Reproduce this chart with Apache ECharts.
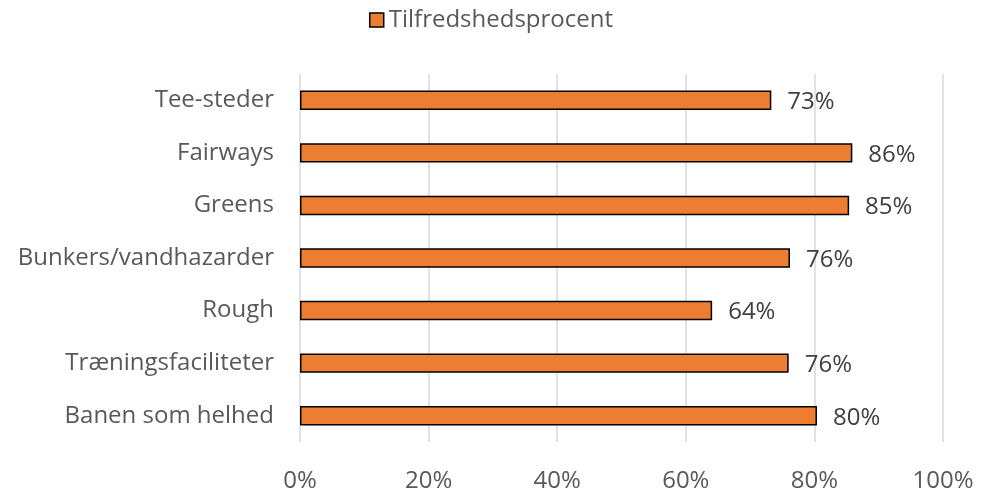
<!DOCTYPE html>
<html><head><meta charset="utf-8">
<script src="https://cdn.jsdelivr.net/npm/echarts@6/dist/echarts.min.js"></script>
<style>html,body{margin:0;padding:0;background:#fff}#c{width:982px;height:496px}</style>
</head><body><div id="c"></div>
<script>
const categories = ["Tee-steder","Fairways","Greens","Bunkers/vandhazarder","Rough","Træningsfaciliteter","Banen som helhed"];
const values = [73.3, 85.9, 85.4, 76.2, 64.1, 76.0, 80.4];
const seriesName = "Tilfredshedsprocent";
const xTicks = [0,20,40,60,80,100];

const FONT = "Open Sans";
const chart = echarts.init(document.getElementById('c'));
chart.setOption({
  animation:false,
  textStyle:{fontFamily:FONT},
  legend:{top:3,left:'center',itemWidth:14,itemHeight:14,itemGap:7,
    icon:'rect',
    textStyle:{fontSize:24,color:'#595959',fontFamily:FONT},
    data:[{name:seriesName,itemStyle:{color:'#ED7D31',borderColor:'#000',borderWidth:1.5}}]},
  grid:{left:300,right:39,top:74,bottom:54,containLabel:false},
  xAxis:{type:'value',min:xTicks[0],max:xTicks[xTicks.length-1],interval:20,
    axisLine:{show:false},axisTick:{show:false},
    splitLine:{lineStyle:{color:'#d9d9d9',width:1.5}},
    axisLabel:{formatter:v=>v+'%',fontSize:24,color:'#595959',margin:27,fontFamily:FONT}},
  yAxis:{type:'category',inverse:true,data:categories,
    axisLine:{show:false},axisTick:{show:false},
    axisLabel:{fontSize:24,color:'#595959',margin:26,fontFamily:FONT,padding:[3,0,0,0]}},
  series:[{name:seriesName,type:'bar',data:values,barWidth:'37%',
    itemStyle:{color:'#ED7D31',borderColor:'#000',borderWidth:1.5},
    label:{show:true,position:'right',distance:16,offset:[0,2],fontSize:24,color:'#404040',fontFamily:FONT,
      formatter:p=>Math.round(p.value)+'%'}}]
});
</script></body></html>
